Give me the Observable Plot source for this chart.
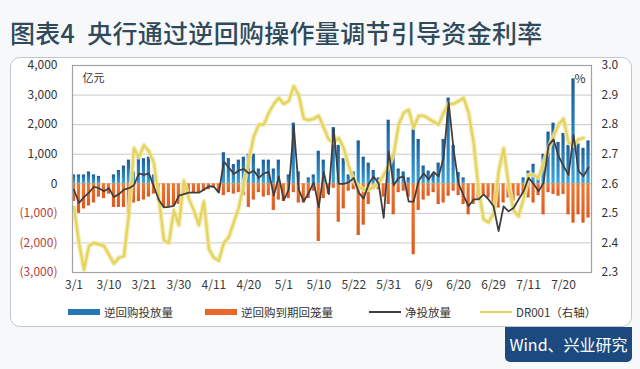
<!DOCTYPE html>
<html>
<head>
<meta charset="utf-8">
<script src="https://cdn.jsdelivr.net/npm/d3@7"></script>
<script src="https://cdn.jsdelivr.net/npm/@observablehq/plot@0.6"></script>
<style>
  html, body { margin: 0; padding: 0; }
  body { width: 640px; height: 369px; background: #f7f8fa; position: relative; overflow: hidden;
         font-family: "Noto Sans CJK SC", "Noto Sans", sans-serif; }
  #title { position: absolute; left: 10px; top: 14px; font-size: 25px; font-weight: 500; color: #2f4a5a; white-space: nowrap; letter-spacing: 0.3px; }
  #title .sp { display: inline-block; width: 12px; }
  #frame { position: absolute; left: 10px; top: 57px; width: 620px; height: 268px; border: 1.5px solid #c3c7cb; border-radius: 10px; background: #fff; }
  #chart { position: absolute; left: 0; top: 55px; }
  #legend { position: absolute; top: 304px; left: 0; width: 640px; height: 16px; font-size: 11.5px; color: #333; }
  .lg { position: absolute; top: 0; display: flex; align-items: center; height: 16px; white-space: nowrap; }
  .sw { display: inline-block; width: 32px; margin-right: 4px; }
  #source { position: absolute; left: 505px; top: 327px; width: 127px; height: 35px; background: #1c4a7f; color: #fff;
            font-size: 16px; line-height: 35px; text-align: center; border-radius: 0 0 5px 5px; }
</style>
</head>
<body>
<div id="title">图表4<span class="sp"></span>央行通过逆回购操作量调节引导资金利率</div>
<div id="frame"></div>
<div id="chart"></div>
<div id="legend"></div>
<div id="source">Wind、兴业研究</div>
<script>
// ---- data (亿元 / %) ----
const inject = [
  300,300,300,400,300,250,0,0,300,450,
  600,800,400,950,850,900,300,0,0,0,
  0,0,0,0,0,0,0,0,0,0,
  1050,850,650,800,900,1000,1000,500,800,800,
  500,800,0,300,2050,400,0,200,300,1100,
  800,0,1900,1300,850,300,400,1450,900,700,
  450,200,0,2150,1000,500,400,200,1850,1500,
  600,430,350,700,1500,2900,1300,380,200,0,
  0,0,0,0,0,0,0,0,0,0,
  200,430,660,250,1000,1750,2050,1400,1700,1300,
  3550,1350,1200,1450
];
const mature = [
  -600,-1000,-850,-750,-650,-450,-500,-350,-800,-800,
  -800,-1000,-650,-600,-550,-450,-350,-600,-800,-800,
  -750,-700,-350,-300,-300,-300,-250,-200,-150,-300,
  -400,-300,-350,-300,-400,-800,-550,-300,-450,-400,
  -900,-550,-600,-500,-300,-650,-650,-500,-250,-1950,
  -500,-350,-150,-1300,-850,-250,-200,-1750,-1400,-700,
  -200,-200,-450,-700,-1050,-300,-250,-450,-2400,-900,
  -550,-420,-300,-700,-650,-420,-250,-400,-700,-1050,
  -700,-530,-360,-480,-700,-820,-650,-480,-590,-420,
  -360,-480,-650,-400,-1050,-300,-360,-420,-360,-1050,
  -1330,-1050,-1330,-1160
];
const net = [
  -200,-650,-450,-300,-100,-150,-250,-150,-450,-350,
  -200,-150,-50,350,300,350,-100,-550,-800,-780,
  -750,-400,-350,-300,-300,-300,-200,-80,-100,-300,
  750,550,330,450,500,350,450,200,350,400,
  -400,250,-550,-200,1950,-200,-600,-300,50,-800,
  400,-350,1850,0,0,50,200,-300,-500,0,
  250,0,-1150,1100,-50,200,250,-600,-600,100,
  350,150,400,250,900,2750,1150,0,-400,-760,
  -530,-530,-360,-530,-760,-1600,-760,-930,-820,-530,
  -250,200,0,-250,30,1300,1500,940,600,300,
  1650,430,260,550
];
const dr001 = [
  2.52,2.40,2.31,2.39,2.40,2.395,2.39,2.36,2.33,2.35,
  2.355,2.50,2.72,2.69,2.73,2.71,2.67,2.55,2.41,2.40,
  2.51,2.46,2.61,2.55,2.51,2.46,2.54,2.38,2.35,2.34,
  2.40,2.42,2.47,2.52,2.60,2.68,2.76,2.80,2.80,2.84,
  2.87,2.89,2.87,2.88,2.93,2.90,2.82,2.815,2.82,2.83,
  2.79,2.75,2.74,2.755,2.72,2.66,2.61,2.59,2.58,2.58,
  2.59,2.60,2.63,2.66,2.70,2.80,2.84,2.85,2.79,2.83,
  2.83,2.82,2.81,2.80,2.84,2.87,2.87,2.88,2.89,2.84,
  2.74,2.58,2.48,2.47,2.50,2.64,2.72,2.60,2.51,2.49,
  2.55,2.63,2.63,2.62,2.67,2.72,2.76,2.80,2.82,2.74,
  2.73,2.75,2.755,null
];
const xTickDays = [0,7,14,21,28,35,42,49,56,63,70,77,84,91,98];
const xTickLabels = ["3/1","3/10","3/21","3/30","4/11","4/20","5/1","5/10","5/22","5/31","6/9","6/20","6/29","7/11","7/20"];
const leftTicks = [4000,3000,2000,1000,0,-1000,-2000,-3000];
const leftTickLabels = ["4,000","3,000","2,000","1,000","0","(1,000)","(2,000)","(3,000)"];
const rightTickLabels = ["3.0","2.9","2.8","2.7","2.6","2.5","2.4","2.3"];
const seriesNames = ["逆回购投放量","逆回购到期回笼量","净投放量","DR001（右轴）"];
const colors = {inject: "#2677b4", mature: "#e9682b", net: "#433e3d", dr: "#e4d35c"};

// right axis (%) shares the left scale: 2.6% ↔ 0, 0.1% ↔ 1,000
const rToL = v => (v - 2.6) * 10000;

const rows = inject.map((v, i) => ({i, inj: v, mat: mature[i], net: net[i], dr: dr001[i]}));
const drRows = rows.filter(d => d.dr != null);
const leftLabel = d => leftTickLabels[leftTicks.indexOf(d)];

const plot = Plot.plot({
  width: 640, height: 245,
  marginTop: 10, marginBottom: 28, marginLeft: 72, marginRight: 49,
  style: {fontFamily: "'Noto Sans CJK SC', 'Noto Sans', sans-serif", background: "transparent", overflow: "visible"},
  x: {domain: [-0.3, 103.6]},
  y: {domain: [-3000, 4000]},
  marks: [
    Plot.gridY(leftTicks, {stroke: "#c9c9c9", strokeOpacity: 1, strokeWidth: 1}),
    Plot.rectY(rows.filter(d => d.inj > 0), {x1: d => d.i - 0.32, x2: d => d.i + 0.32, y1: 0, y2: "inj", fill: "url(#gradBlue)"}),
    Plot.rectY(rows.filter(d => d.mat < 0), {x1: d => d.i - 0.32, x2: d => d.i + 0.32, y1: 0, y2: "mat", fill: "url(#gradOrange)"}),
    Plot.line(drRows, {x: "i", y: d => rToL(d.dr), stroke: "#f1e7a6", strokeWidth: 5, strokeOpacity: 0.8, curve: "linear"}),
    Plot.line(drRows, {x: "i", y: d => rToL(d.dr), stroke: colors.dr, strokeWidth: 2.2}),
    Plot.line(rows, {x: "i", y: "net", stroke: colors.net, strokeWidth: 1.8}),
    Plot.frame({stroke: "#a3a3a3", strokeWidth: 1.2}),
    Plot.axisX(xTickDays, {tickSize: 0, tickPadding: 8, fontSize: 12, fill: "#3a3a3a",
      tickFormat: d => xTickLabels[xTickDays.indexOf(d)], label: null}),
    Plot.axisY(leftTicks.filter(d => d >= 0), {anchor: "left", tickSize: 0, tickPadding: 15, fontSize: 12, fill: "#333",
      tickFormat: leftLabel, label: null}),
    Plot.axisY(leftTicks.filter(d => d < 0), {anchor: "left", tickSize: 0, tickPadding: 15, fontSize: 12, fill: "#b3413b",
      tickFormat: leftLabel, label: null}),
    Plot.axisY(leftTicks, {anchor: "right", tickSize: 0, tickPadding: 10, fontSize: 12, fill: "#333",
      tickFormat: d => rightTickLabels[leftTicks.indexOf(d)], label: null}),
    Plot.text(["亿元"], {frameAnchor: "top-left", dx: 10, dy: 9, fontSize: 11, fill: "#333", textAnchor: "start"}),
    Plot.text(["%"], {frameAnchor: "top-right", dx: -6, dy: 9, fontSize: 12, fill: "#333", textAnchor: "end"})
  ]
});
// bar gradients (dark top, lighter toward the zero line)
const ns = "http://www.w3.org/2000/svg";
const defs = document.createElementNS(ns, "defs");
defs.innerHTML =
  '<linearGradient id="gradBlue" x1="0" y1="0" x2="0" y2="1">' +
  '<stop offset="0" stop-color="#1d5e96"/><stop offset="0.6" stop-color="#2a85c4"/><stop offset="1" stop-color="#38a6de"/></linearGradient>' +
  '<linearGradient id="gradOrange" x1="0" y1="0" x2="0" y2="1">' +
  '<stop offset="0" stop-color="#f07a30"/><stop offset="1" stop-color="#dc5a22"/></linearGradient>';
plot.insertBefore(defs, plot.firstChild);
document.getElementById("chart").appendChild(plot);

// legend
const legend = document.getElementById("legend");
const items = [
  {x: 68, name: seriesNames[0], type: "rect", color: colors.inject},
  {x: 205, name: seriesNames[1], type: "rect", color: colors.mature},
  {x: 369, name: seriesNames[2], type: "line", color: colors.net},
  {x: 480, name: seriesNames[3], type: "line", color: colors.dr}
];
items.forEach(it => {
  const el = document.createElement("div");
  el.className = "lg";
  el.style.left = it.x + "px";
  const sw = document.createElement("span");
  sw.className = "sw";
  sw.style.height = it.type === "rect" ? "6px" : "2px";
  sw.style.background = it.color;
  el.appendChild(sw);
  el.appendChild(document.createTextNode(it.name));
  legend.appendChild(el);
});
</script>
</body>
</html>
